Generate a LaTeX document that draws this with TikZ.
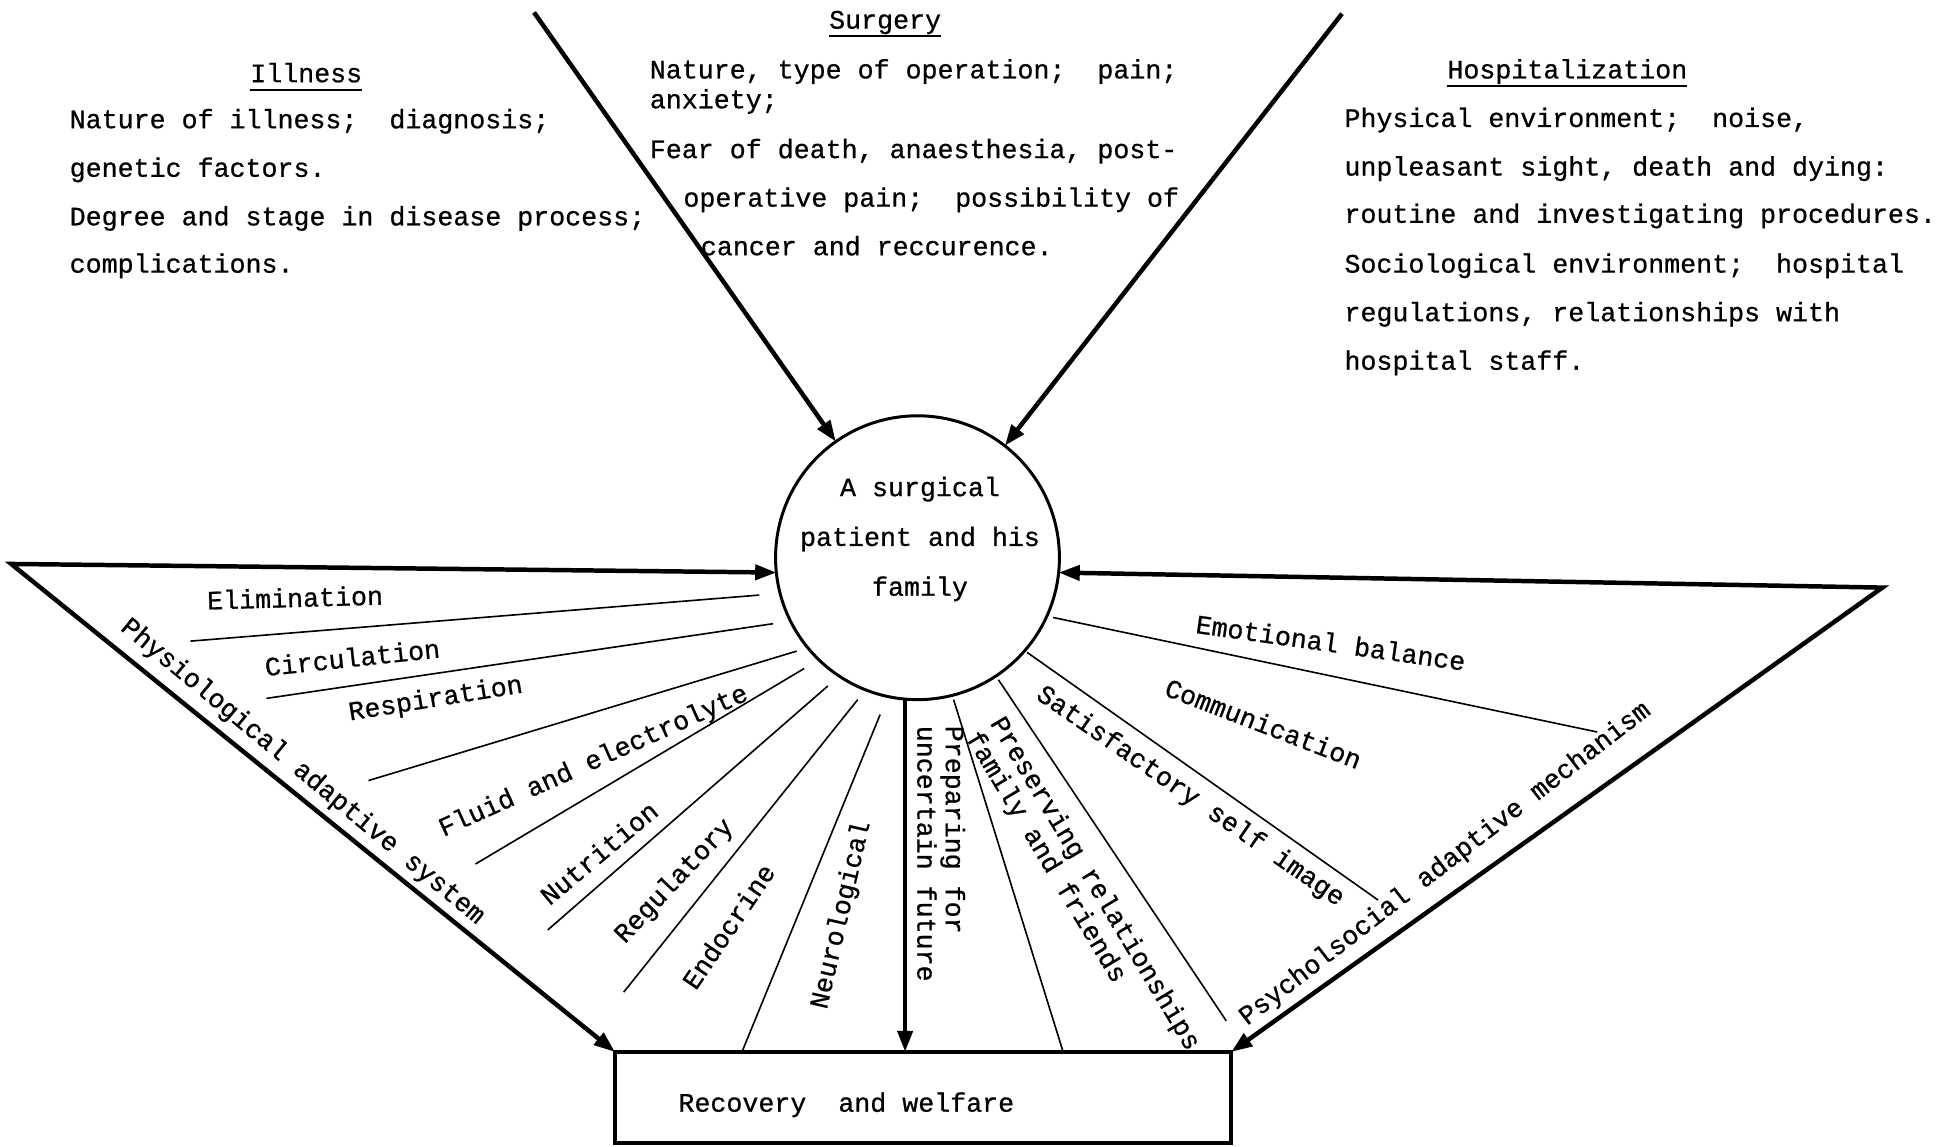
\documentclass[tikz,border=0pt]{standalone}
\usepackage{fontspec}
\newfontfamily\tw{Liberation Mono}[FakeBold=0.7]
\usetikzlibrary{arrows.meta,calc}
\begin{document}
\begin{tikzpicture}[x=0.5pt,y=-0.5pt,
  every node/.style={font=\tw\fontsize{10.7}{19.4}\selectfont, inner sep=0pt, outer sep=0pt},
  heavy/.style={line width=1.8pt, line join=miter},
  spoke/.style={line width=0.65pt},
  tipb/.style={-{Triangle[length=8.5pt,width=6pt]}},
  tipboth/.style={{Triangle[length=8.5pt,width=6pt]}-{Triangle[length=8.5pt,width=6pt]}},
  uline/.style={line width=0.8pt},
  body/.style={anchor=base west},
  title/.style={anchor=base},
  twoline/.style={align=left, anchor=west, font=\tw\fontsize{10.7}{11.4}\selectfont}
]
\useasboundingbox[fill=white] (0,0) rectangle (1568,921);

% ---- titles ----
\node[title] (tIll) at (246,66) {Illness};
\node[title] (tSur) at (711,23) {Surgery};
\node[title] (tHos) at (1259,63) {Hospitalization};
\foreach \t in {tIll,tSur,tHos}
  \draw[uline] ([yshift=-3pt]\t.base west) -- ([yshift=-3pt]\t.base east);

% ---- Illness ----
\node[body] (i1) at (56,103) {Nature of illness;\ \ diagnosis;};
\node[body] (i2) at (56,142) {genetic factors.};
\node[body] (i3) at (56,181) {Degree and stage in disease process;};
\node[body] (i4) at (56,219) {complications.};

% ---- Surgery ----
\node[body] (s1) at (522,63) {Nature, type of operation;\ \ pain;};
\node[body] (s2) at (522,87) {anxiety;};
\node[body] (s3) at (522,127) {Fear of death, anaesthesia, post-};
\node[body] (s4) at (549,166) {operative pain;\ \ possibility of};
\node[body] (s5) at (563,205) {cancer and reccurence.};

% ---- Hospitalization ----
\node[body] (h1) at (1080,102) {Physical environment;\ \ noise,};
\node[body] (h2) at (1080,141) {unpleasant sight, death and dying:};
\node[body] (h3) at (1080,179) {routine and investigating procedures.};
\node[body] (h4) at (1080,219) {Sociological environment;\ \ hospital};
\node[body] (h5) at (1080,258) {regulations, relationships with};
\node[body] (h6) at (1080,297) {hospital staff.};

% ---- centre circle and box ----
\node[draw, circle, minimum size=114pt, line width=1.2pt] (pat) at (737,448) {};
\node[align=center, font=\tw\fontsize{10.7}{20}\selectfont] (ptxt) at (739,433)
  {A surgical\\patient and his\\family};
\node[draw, line width=1.5pt, minimum width=247.5pt, minimum height=36.5pt] (rec) at (741.5,881.5) {};
\node[body] (rtxt) at (545,893) {Recovery\ \ and welfare};

% ---- free ends ----
\coordinate (lv) at (9,453);
\coordinate (rv) at (1512,472);
\coordinate (sa) at (429,10);
\coordinate (sb) at (1078,11);

% ---- heavy arrows ----
\draw[heavy, tipb] (sa) -- (pat);
\draw[heavy, tipb] (sb) -- (pat);
\draw[heavy, tipboth] (pat.186) -- (lv) -- (rec.north west);
\draw[heavy, tipboth] (pat.-6) -- (rv) -- (rec.north east);
\draw[heavy, tipb] (pat.265.5) -- (pat.265.5 |- rec.north);

% ---- spokes ----
\foreach \i/\ax/\ay/\bx/\by in {
  1/610/478/153/515, 2/621/501/214/561, 3/640/523/296/627,
  4/646/537/382/694, 5/665/551/440/747, 6/689/562/501/797,
  7/707/574/596/845, 8/766/562/854/845, 9/802/546/985/820,
  10/825/524/1107/723, 11/846/496/1283/588}{
  \coordinate (sp\i a) at (\ax,\ay);
  \coordinate (sp\i b) at (\bx,\by);
  \draw[spoke] (sp\i a) -- (sp\i b);
}

% ---- labels ----
\node[rotate=1.6] (lElim) at (237,480) {Elimination};
\node[rotate=6.1] (lCirc) at (283,528) {Circulation};
\node[rotate=9.2] (lResp) at (350,562) {Respiration};
\node[rotate=24.2] (lFlui) at (477,612) {Fluid and electrolyte};
\node[rotate=39.9] (lNutr) at (481,685) {Nutrition};
\node[rotate=46.7] (lRegu) at (542,708) {Regulatory};
\node[rotate=56] (lEndo) at (585,744) {Endocrine};
\node[rotate=77] (lNeur) at (676,735) {Neurological};
\node[rotate=-39.6] (lPhys) at (243,620) {Physiological adaptive system};
\node[twoline, rotate=-90] (lPrep) at (756,583) {Preparing for\\uncertain future};
\node[twoline, rotate=-59] (lPres) at (790,584) {Preserving relationships\\family and friends};
\node[rotate=-34.6] (lSelf) at (956,640) {Satisfactory self image};
\node[rotate=-21] (lComm) at (1015,581) {Communication};
\node[rotate=-8] (lEmot) at (1069,516) {Emotional balance};
\node[rotate=37.7] (lPsy) at (1161,694) {Psycholsocial adaptive mechanism};
\end{tikzpicture}
\end{document}
